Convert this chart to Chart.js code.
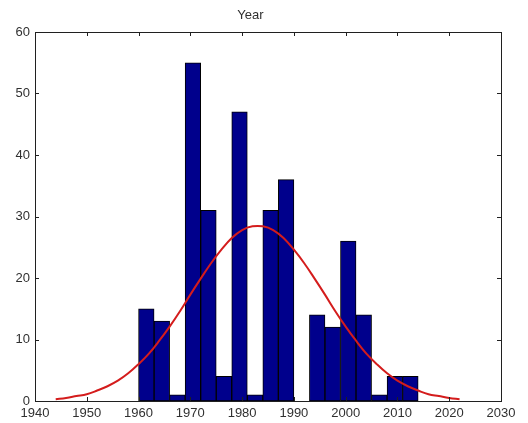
<!DOCTYPE html>
<html>
<head>
<meta charset="utf-8">
<title>Year</title>
<script src="https://cdn.jsdelivr.net/npm/chart.js@4.4.1/dist/chart.umd.min.js"></script>
<style>
  html, body { margin: 0; padding: 0; background: #ffffff; }
  #wrap { width: 528px; height: 423px; }
</style>
</head>
<body>
<div id="wrap"><canvas id="chart" width="528" height="423"></canvas></div>
<script>
// Histogram bins (3-year wide), given by their centre year
const binCenters = [1961.5, 1964.5, 1967.5, 1970.5, 1973.5, 1976.5, 1979.5, 1982.5, 1985.5,
                    1988.5, 1991.5, 1994.5, 1997.5, 2000.5, 2003.5, 2006.5, 2009.5, 2012.5];
const counts     = [15, 13, 1, 55, 31, 4, 47, 1, 31,
                    36, 0, 14, 12, 26, 14, 1, 4, 4];

// Fitted density curve, scaled to counts
const curveYears  = [1944, 1946, 1948, 1950, 1952, 1954, 1956, 1958, 1960, 1962, 1964, 1966, 1968, 1970,
                     1972, 1974, 1976, 1978, 1980, 1982, 1984, 1986, 1988, 1990, 1992, 1994, 1996, 1998,
                     2000, 2002, 2004, 2006, 2008, 2010, 2012, 2014, 2016, 2018, 2020, 2022];
const curveValues = [0.3, 0.5, 0.8, 1.1, 1.7, 2.4, 3.3, 4.5, 6.0, 7.7, 9.8, 12.1, 14.6, 17.3,
                     19.9, 22.4, 24.6, 26.5, 27.8, 28.4, 28.4, 27.8, 26.5, 24.6, 22.4, 19.9, 17.3, 14.6,
                     12.1, 9.8, 7.7, 6.0, 4.5, 3.3, 2.4, 1.7, 1.1, 0.8, 0.5, 0.3];

// Axis ranges and tick spacing
const xTickMin = 1940, xTickMax = 2030, xTickStep = 10;
const yTickMin = 0, yTickMax = 60, yTickStep = 10;

const barPoints = binCenters.map((x, i) => ({ x: x, y: counts[i] }));
const curvePoints = curveYears.map((x, i) => ({ x: x, y: curveValues[i] }));

// Axes box with inward tick marks on all four sides
const boxTicks = {
  id: 'boxTicks',
  afterDraw(chart) {
    const { ctx, chartArea: a, scales } = chart;
    const len = 4;
    ctx.save();
    ctx.strokeStyle = '#202020';
    ctx.lineWidth = 1;
    ctx.beginPath();
    scales.x.ticks.forEach(t => {
      const px = Math.round(scales.x.getPixelForValue(t.value)) + 0.5;
      ctx.moveTo(px, a.bottom); ctx.lineTo(px, a.bottom - len);
      ctx.moveTo(px, a.top); ctx.lineTo(px, a.top + len);
    });
    scales.y.ticks.forEach(t => {
      const py = Math.round(scales.y.getPixelForValue(t.value)) + 0.5;
      ctx.moveTo(a.left, py); ctx.lineTo(a.left + len, py);
      ctx.moveTo(a.right, py); ctx.lineTo(a.right - len, py);
    });
    ctx.stroke();
    ctx.strokeRect(Math.round(a.left) + 0.5, Math.round(a.top) + 0.5,
                   Math.round(a.right - a.left), Math.round(a.bottom - a.top));
    ctx.restore();
  }
};

const tickFont = { family: 'Liberation Sans, Arial, sans-serif', size: 13 };

new Chart(document.getElementById('chart'), {
  data: {
    datasets: [
      {
        type: 'line',
        data: curvePoints,
        borderColor: '#d41c1c',
        borderWidth: 2,
        pointRadius: 0,
        tension: 0.4,
        fill: false,
        order: 0
      },
      {
        type: 'bar',
        data: barPoints,
        backgroundColor: '#00008c',
        borderColor: '#000000',
        borderWidth: 1,
        borderSkipped: false,
        barPercentage: 1.0,
        categoryPercentage: 1.0,
        order: 1
      }
    ]
  },
  options: {
    responsive: false,
    animation: false,
    layout: { padding: { left: 0, right: 27, top: 0, bottom: 0 } },
    plugins: {
      legend: { display: false },
      tooltip: { enabled: false },
      title: {
        display: true,
        text: 'Year',
        color: '#303030',
        font: { family: 'Liberation Sans, Arial, sans-serif', size: 13, weight: 'normal', lineHeight: 1.2 },
        padding: { top: 8, bottom: 8.4 }
      }
    },
    scales: {
      x: {
        type: 'linear',
        min: xTickMin,
        max: xTickMax,
        offset: false,
        grid: { display: false, drawTicks: false },
        border: { display: false },
        ticks: {
          stepSize: xTickStep,
          color: '#303030',
          font: tickFont,
          padding: 5,
          maxRotation: 0,
          autoSkip: false,
          callback: v => String(v)
        },
        afterFit: s => { s.height = 22; }
      },
      y: {
        min: yTickMin,
        max: yTickMax,
        grid: { display: false, drawTicks: false },
        border: { display: false },
        ticks: {
          stepSize: yTickStep,
          color: '#303030',
          font: tickFont,
          padding: 5
        },
        afterFit: s => { s.width = 35; }
      }
    }
  },
  plugins: [boxTicks]
});
</script>
</body>
</html>
